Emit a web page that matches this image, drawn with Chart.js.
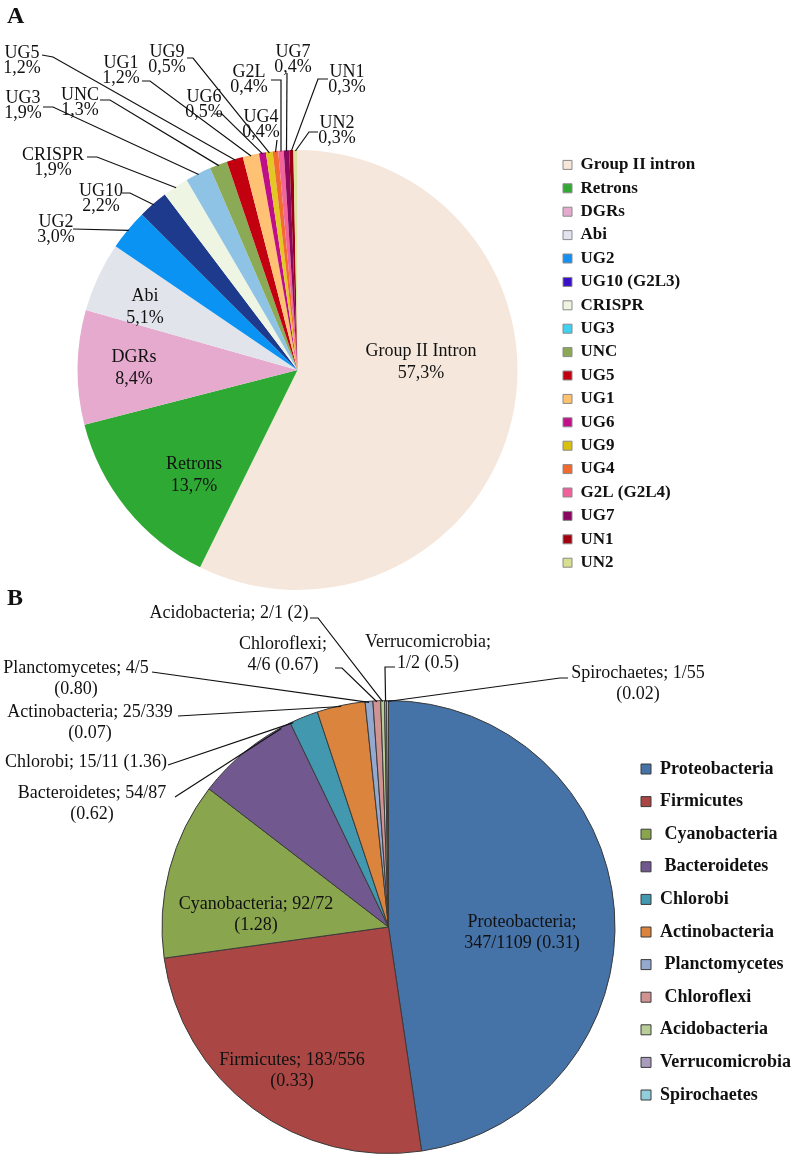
<!DOCTYPE html>
<html lang="en">
<head>
  <meta charset="UTF-8">
  <title>Distribution of RT groups and host phyla</title>
  <script src="https://cdn.jsdelivr.net/npm/chart.js"></script>
  <style>
    body { margin: 0; background: #fff; }
    #wrap { position: relative; width: 791px; height: 1159px; }
    canvas { position: absolute; left: 0; }
    #chartA { top: 0; }
    #chartB { top: 580px; }
  </style>
</head>
<body>
<div id="wrap">
  <canvas id="chartA" width="791" height="600"></canvas>
  <canvas id="chartB" width="791" height="579"></canvas>
</div>
<script>
  // ---- Panel A: RT groups (% of total) ----
  const groupsA = ['Group II intron', 'Retrons', 'DGRs', 'Abi', 'UG2', 'UG10 (G2L3)', 'CRISPR', 'UG3', 'UNC',
                   'UG5', 'UG1', 'UG6', 'UG9', 'UG4', 'G2L (G2L4)', 'UG7', 'UN1', 'UN2'];
  const shortA = ['Group II Intron', 'Retrons', 'DGRs', 'Abi', 'UG2', 'UG10', 'CRISPR', 'UG3', 'UNC',
                  'UG5', 'UG1', 'UG6', 'UG9', 'UG4', 'G2L', 'UG7', 'UN1', 'UN2'];
  const percentA = [57.3, 13.7, 8.4, 5.1, 3.0, 2.2, 1.9, 1.9, 1.3, 1.2, 1.2, 0.5, 0.5, 0.4, 0.4, 0.4, 0.3, 0.3];

  // ---- Panel B: host phyla (RT count / genomes) ----
  const phylaB = ['Proteobacteria', 'Firmicutes', 'Cyanobacteria', 'Bacteroidetes', 'Chlorobi', 'Actinobacteria',
                  'Planctomycetes', 'Chloroflexi', 'Acidobacteria', 'Verrucomicrobia', 'Spirochaetes'];
  const legendB = ['Proteobacteria', 'Firmicutes', ' Cyanobacteria', ' Bacteroidetes', 'Chlorobi', 'Actinobacteria',
                   ' Planctomycetes', ' Chloroflexi', 'Acidobacteria', 'Verrucomicrobia', 'Spirochaetes'];
  const countB = [347, 183, 92, 54, 15, 25, 4, 4, 2, 1, 1];
  const genomesB = [1109, 556, 72, 87, 11, 339, 5, 6, 1, 2, 55];
  const ratioB = ['0.31', '0.33', '1.28', '0.62', '1.36', '0.07', '0.80', '0.67', '2', '0.5', '0.02'];

  // colours
  const sliceColorsA = ['#F5E7DC', '#2EAA34', '#E5AACE', '#E2E4EC', '#0A93F2', '#1D3A8C', '#EEF5E2', '#8FC3E6', '#8BAA55',
                        '#C3000F', '#FFC274', '#BE0E88', '#E3C824', '#F26B30', '#F2649A', '#8C0A5E', '#9B0012', '#DCE3A0'];
  const legendColorsA = ['#F7E6DA', '#33A833', '#E5AACD', '#E3E3F0', '#1590F0', '#3A0FC8', '#EEF4DF', '#40D0F0', '#8AA855',
                         '#C00010', '#FFC070', '#C0108A', '#D8C010', '#F06A30', '#F0609A', '#880860', '#A00010', '#D8E090'];
  const colorsB = ['#4572A7', '#AA4643', '#89A54E', '#71588F', '#4198AF', '#DB843D', '#93A9CF', '#D19392', '#B9CD96', '#A99BBD', '#92CDDC'];

  const serif = "'Liberation Serif', 'Times New Roman', serif";
  Chart.defaults.font.family = serif;
  Chart.defaults.color = '#111';

  // label placement: offsets from the pie centre (px); line = [start x, start y, elbow x, elbow y]
  const labelsA = [
    { i: 0, dx: 123.5, dy: -19, lh: 22 },
    { i: 1, dx: -103.5, dy: 94, lh: 22 },
    { i: 2, dx: -163.5, dy: -13, lh: 22 },
    { i: 3, dx: -152.5, dy: -74, lh: 22 },
    { i: 4, dx: -241.5, dy: -148, line: [-224.5, -141, -224.5, -141] },
    { i: 5, dx: -196.5, dy: -179, line: [-175.5, -177, -167.5, -177] },
    { i: 6, dx: -244.5, dy: -215, line: [-210.5, -213, -200.5, -213] },
    { i: 7, dx: -274.5, dy: -272, line: [-254.5, -263, -244.5, -263] },
    { i: 8, dx: -217.5, dy: -275, line: [-197.5, -270, -187.5, -270] },
    { i: 9, dx: -275.5, dy: -317, line: [-255.5, -315, -244.5, -313] },
    { i: 10, dx: -176.5, dy: -307, line: [-155.5, -289, -147.5, -289] },
    { i: 11, dx: -93.5, dy: -273, line: [-83.5, -256, -75.5, -256] },
    { i: 12, dx: -130.5, dy: -318, line: [-110.5, -312, -104.5, -312] },
    { i: 13, dx: -36.5, dy: -253, line: [-20.5, -230, -20.5, -230] },
    { i: 14, dx: -48.5, dy: -298, line: [-26.5, -290, -16.5, -290] },
    { i: 15, dx: -4.5, dy: -318, line: [-10.5, -297, -10.5, -297] },
    { i: 16, dx: 49.5, dy: -298, line: [30.5, -291, 20.5, -291] },
    { i: 17, dx: 39.5, dy: -247, line: [20.5, -238, 11.5, -238] }
  ];
  const labelsB = [
    { i: 0, dx: 133.5, dy: -5, brk: 'name' },
    { i: 1, dx: -96.5, dy: 133, brk: 'ratio' },
    { i: 2, dx: -132.5, dy: -23, brk: 'ratio' },
    { i: 3, dx: -296.5, dy: -134, brk: 'ratio', line: [-213.5, -130, -213.5, -130], frac: 0.9 },
    { i: 4, dx: -302.5, dy: -165, line: [-220.5, -162, -220.5, -162], frac: 0.1 },
    { i: 5, dx: -298.5, dy: -215, brk: 'ratio', line: [-210.5, -211, -210.5, -211] },
    { i: 6, dx: -312.5, dy: -259, brk: 'ratio', line: [-236.5, -255, -236.5, -255] },
    { i: 7, dx: -105.5, dy: -283, brk: 'name', line: [-53.5, -259, -46.5, -259] },
    { i: 8, dx: -159.5, dy: -314, line: [-78.5, -309, -70.5, -309] },
    { i: 9, dx: 39.5, dy: -285, brk: 'name', line: [6.5, -260, -3.5, -260] },
    { i: 10, dx: 249.5, dy: -254, brk: 'ratio', line: [179.5, -249, 171.5, -249] }
  ];

  function textA(i) {
    return [shortA[i], percentA[i].toFixed(1).replace('.', ',') + '%'];
  }
  function textB(i, brk) {
    const name = phylaB[i] + ';';
    const frac = countB[i] + '/' + genomesB[i];
    const ratio = '(' + ratioB[i] + ')';
    if (brk === 'name') return [name, frac + ' ' + ratio];
    if (brk === 'ratio') return [name + ' ' + frac, ratio];
    return [name + ' ' + frac + ' ' + ratio];
  }

  // draws data labels with leader lines plus the panel letter
  const pieLabels = {
    id: 'pieLabels',
    afterDatasetsDraw(chart, args, opts) {
      const ctx = chart.ctx;
      const arcs = chart.getDatasetMeta(0).data;
      ctx.save();
      ctx.fillStyle = '#111';
      ctx.strokeStyle = '#111';
      ctx.lineWidth = 1.2;
      ctx.textAlign = 'center';
      ctx.textBaseline = 'middle';
      ctx.font = opts.fontSize + 'px ' + serif;
      opts.items.forEach(it => {
        const arc = arcs[it.i];
        const p = arc.getProps(['x', 'y', 'startAngle', 'endAngle', 'outerRadius'], true);
        const lines = opts.text(it.i, it.brk);
        const lh = it.lh || opts.lineHeight;
        lines.forEach((t, k) => ctx.fillText(t, p.x + it.dx, p.y + it.dy + k * lh));
        if (it.line) {
          const f = it.frac === undefined ? 0.5 : it.frac;
          const a = p.startAngle + (p.endAngle - p.startAngle) * f;
          const r = p.outerRadius - 1;
          ctx.beginPath();
          ctx.moveTo(p.x + it.line[0], p.y + it.line[1]);
          ctx.lineTo(p.x + it.line[2], p.y + it.line[3]);
          ctx.lineTo(p.x + Math.cos(a) * r, p.y + Math.sin(a) * r);
          ctx.stroke();
        }
      });
      ctx.font = 'bold 24px ' + serif;
      ctx.textAlign = 'left';
      ctx.textBaseline = 'alphabetic';
      ctx.fillText(opts.letter, 7, opts.letterY);
      ctx.restore();
    }
  };

  function legendItems(names, colors, stroke) {
    return chart => names.map((n, i) => ({
      text: n, fillStyle: colors[i], strokeStyle: stroke, lineWidth: 1,
      hidden: false, index: i, fontColor: '#111'
    }));
  }

  // right padding so that the legend (natural width) starts at x = left
  function padRightFor(names, size, boxW, pad, left) {
    const c = document.createElement('canvas').getContext('2d');
    c.font = 'bold ' + size + 'px ' + serif;
    const w = Math.max(...names.map(n => c.measureText(n).width));
    return 791 - left - (pad + boxW + size / 2 + w + 10);
  }

  new Chart(document.getElementById('chartA'), {
    type: 'pie',
    data: {
      labels: groupsA,
      datasets: [{ data: percentA, backgroundColor: sliceColorsA, borderWidth: 0, hoverOffset: 0 }]
    },
    options: {
      responsive: false,
      animation: false,
      events: [],
      layout: { padding: { top: 150, bottom: 10, left: 38.4, right: padRightFor(groupsA, 17, 9, 6.4, 556.6) } },
      plugins: {
        tooltip: { enabled: false },
        legend: {
          position: 'right',
          align: 'start',
          labels: {
            boxWidth: 9, boxHeight: 9, padding: 6.4,
            font: { size: 17, weight: 'bold' },
            generateLabels: legendItems(groupsA, legendColorsA, '#8a8a8a')
          }
        },
        pieLabels: { items: labelsA, text: textA, fontSize: 18, lineHeight: 15.5, letter: 'A', letterY: 23 }
      }
    },
    plugins: [pieLabels]
  });

  new Chart(document.getElementById('chartB'), {
    type: 'pie',
    data: {
      labels: phylaB,
      datasets: [{ data: countB, backgroundColor: colorsB, borderColor: '#3a3a3a', borderWidth: 1, hoverOffset: 0 }]
    },
    options: {
      responsive: false,
      animation: false,
      events: [],
      layout: { padding: { top: 120, bottom: 5, left: 150.6, right: padRightFor(legendB, 18, 10, 14.6, 626.4) } },
      plugins: {
        tooltip: { enabled: false },
        legend: {
          position: 'right',
          align: 'center',
          title: { display: true, text: '', font: { size: 10, lineHeight: 1 }, padding: 0 },
          labels: {
            boxWidth: 10, boxHeight: 10, padding: 14.6,
            font: { size: 18, weight: 'bold' },
            generateLabels: legendItems(legendB, colorsB, '#3a3a3a')
          }
        },
        pieLabels: { items: labelsB, text: textB, fontSize: 18, lineHeight: 21, letter: 'B', letterY: 25 }
      }
    },
    plugins: [pieLabels]
  });
</script>
</body>
</html>
